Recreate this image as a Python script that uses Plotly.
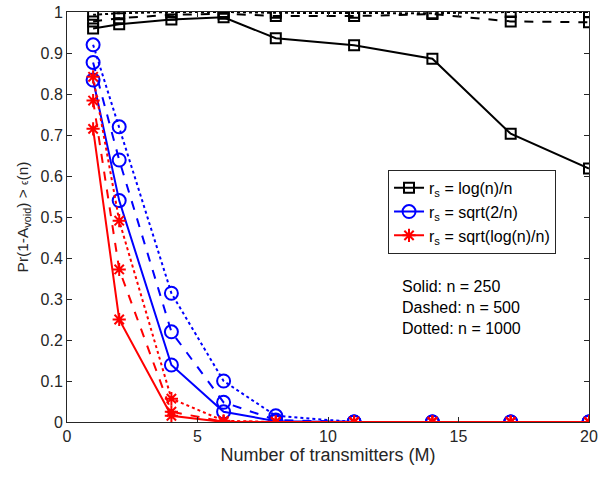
import plotly.graph_objects as go

M = [1, 2, 4, 6, 8, 11, 14, 17, 20]

log_250 = [0.960, 0.970, 0.982, 0.987, 0.936, 0.919, 0.886, 0.703, 0.618]
log_500 = [0.977, 0.985, 0.993, 0.996, 0.990, 0.990, 0.995, 0.977, 0.975]
log_1000 = [0.993, 0.997, 1.000, 1.000, 0.998, 0.998, 0.997, 1.000, 1.000]

sq2_250 = [0.834, 0.540, 0.139, 0.025, 0.002, 0.0, 0.0, 0.0, 0.0]
sq2_500 = [0.877, 0.639, 0.220, 0.048, 0.005, 0.0, 0.0, 0.0, 0.0]
sq2_1000 = [0.920, 0.720, 0.314, 0.100, 0.015, 0.0, 0.0, 0.0, 0.0]

sql_250 = [0.715, 0.250, 0.015, 0.0, 0.0, 0.0, 0.0, 0.0, 0.0]
sql_500 = [0.784, 0.372, 0.025, 0.001, 0.0, 0.0, 0.0, 0.0, 0.0]
sql_1000 = [0.842, 0.491, 0.057, 0.003, 0.0, 0.0, 0.0, 0.0, 0.0]

x_ticks = [0, 5, 10, 15, 20]
y_ticks = [0, 0.1, 0.2, 0.3, 0.4, 0.5, 0.6, 0.7, 0.8, 0.9, 1]
y_tick_labels = ["0", "0.1", "0.2", "0.3", "0.4", "0.5", "0.6", "0.7", "0.8", "0.9", "1"]

FONT = "Liberation Sans, Arial, sans-serif"

fig = go.Figure()

groups = [
    ("r<sub>s</sub> = log(n)/n", "#000000", "square-open", 10, [log_250, log_500, log_1000]),
    ("r<sub>s</sub> = sqrt(2/n)", "#0000ff", "circle-open", 13, [sq2_250, sq2_500, sq2_1000]),
    ("r<sub>s</sub> = sqrt(log(n)/n)", "#ff0000", "asterisk-open", 11, [sql_250, sql_500, sql_1000]),
]
dashes = ["solid", "dash", "dot"]

for name, color, sym, size, series in groups:
    for i, ys in enumerate(series):
        fig.add_trace(go.Scatter(
            x=M, y=ys, mode="lines+markers", name=name,
            showlegend=(i == 0),
            line=dict(color=color, width=2, dash=dashes[i]),
            marker=dict(symbol=sym, size=size, color=color,
                        line=dict(color=color, width=2)),
        ))

fig.add_annotation(
    x=12.75, y=0.355, xref="x", yref="y", xanchor="left", yanchor="top",
    text="Solid: n = 250<br>Dashed: n = 500<br>Dotted: n = 1000",
    showarrow=False, align="left",
    font=dict(family=FONT, size=16, color="#000000"),
)

axis_common = dict(
    showline=True, linecolor="#262626", linewidth=1, mirror="ticks",
    ticks="inside", ticklen=5, tickcolor="#262626",
    showgrid=False, zeroline=False, automargin=False,
    tickfont=dict(family=FONT, size=16, color="#262626"),
)

fig.update_layout(
    width=600, height=477,
    margin=dict(l=67, r=11, t=12, b=55),
    paper_bgcolor="white", plot_bgcolor="white",
    font=dict(family=FONT, color="#262626"),
    xaxis=dict(range=[0, 20], tickvals=x_ticks, ticktext=[str(v) for v in x_ticks],
               title=dict(text="Number of transmitters (M)", standoff=4,
                          font=dict(family=FONT, size=18, color="#262626")),
               **axis_common),
    yaxis=dict(range=[0, 1], tickvals=y_ticks, ticktext=y_tick_labels,
               title=dict(text="Pr(1-A<sub>void</sub>) > <span style='font-size:10px'>ϵ</span>(n)", standoff=8,
                          font=dict(family=FONT, size=15.5, color="#262626")),
               **axis_common),
    legend=dict(x=0.615, y=0.615, xanchor="left", yanchor="top",
                bgcolor="white", bordercolor="#262626", borderwidth=1,
                font=dict(family=FONT, size=16, color="#000000"),
                tracegroupgap=0, itemwidth=30),
)

fig.write_html(
    "out.html",
    config={"displayModeBar": False},
    post_script="document.body.style.margin='0px';document.body.style.overflow='hidden';",
)
